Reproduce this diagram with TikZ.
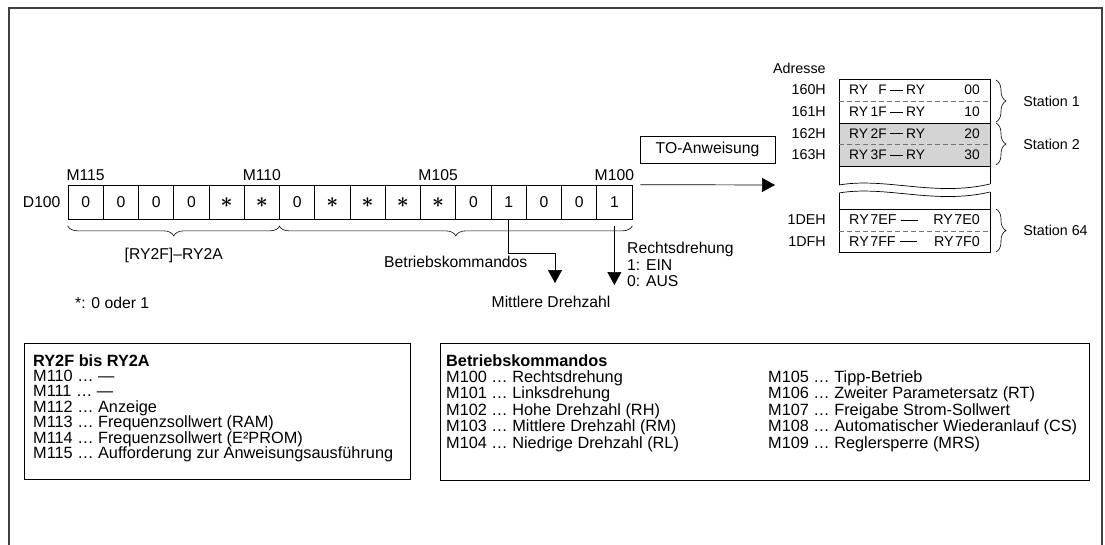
\documentclass[tikz,border=0pt]{standalone}
\usepackage{fontspec}
\setmainfont{Liberation Sans}
\usetikzlibrary{positioning,arrows.meta,decorations.pathreplacing}
\newcommand{\stern}{{\fontsize{21}{21}\selectfont\boldmath$\ast$}}
\tikzset{
  txt/.style={font=\fontsize{15.7}{16.5}\selectfont, inner sep=0pt},
  ttxt/.style={font=\fontsize{14.3}{15}\selectfont, inner sep=0pt},
  rtxt/.style={font=\fontsize{13.8}{14}\selectfont, inner sep=0pt},
  ltxt/.style={font=\fontsize{16.3}{15.4}\selectfont, inner sep=0pt},
  zelle/.style={draw, line width=0.7pt, minimum width=35.25pt, minimum height=34.5pt, inner sep=0pt, txt},
  pfeil/.style={line width=0.7pt, -{Triangle[width=14pt,length=13pt]}},
  klammer/.style={line width=0.6pt, decorate, decoration={brace, amplitude=10pt}},
  klammeru/.style={line width=0.6pt, decorate, decoration={brace, mirror, amplitude=10pt}},
  trenn/.style={black!55, line width=0.7pt, dash pattern=on 5pt off 3pt},
  kasten/.style={draw, line width=0.8pt, inner sep=0pt},
  rahmen/.style={black!75, line width=1.3pt},
}
\begin{document}
\begin{tikzpicture}[x=1pt,y=-1pt]
\useasboundingbox (0,0) rectangle (1105,544);
\draw[rahmen] (9,560) -- (9,8) -- (1102,8) -- (1102,560);

% Register D100
\foreach \w [count=\i from 0] in {0,0,0,0,\stern,\stern,0,\stern,\stern,\stern,\stern,0,1,0,0,1}{
  \pgfmathtruncatemacro{\bit}{115-\i}
  \node[zelle] (m\bit) at ({85.625+35.25*\i},202.25) {\w};
}
\foreach \b in {115,110,105,100}
  \node[txt, above=3.5pt of m\b] (l\b) {M\b};
\node[txt, left=7pt of m115] (d100) {D100};

\draw[klammeru] ([yshift=-6pt]m115.south west) -- ([yshift=-6pt]m110.south east)
  node[txt, midway, below=22pt] (ry2a) {[RY2F]–RY2A};
\draw[klammeru] ([yshift=-6pt]m109.south west) -- ([yshift=-6pt]m100.south east)
  node[txt, midway, below=30pt] (bkom) {Betriebskommandos};
\node[txt, anchor=west] (stern) at (75,303) {*: 0 oder 1};

% Pfeile nach unten
\coordinate (knick) at (555,253);
\coordinate (mspitze) at (555,283);
\coordinate (rspitze) at (614.375,285);
\draw[pfeil] (m103.south) |- (knick) -- (mspitze);
\node[txt] (mdz) at (551,302) {Mittlere Drehzahl};
\draw[pfeil] ([yshift=-6pt]m100.south) -- (rspitze);
\node[txt, anchor=west, align=left] (rdr) at (627,264.5) {Rechtsdrehung\\1: EIN\\0: AUS};

% TO-Anweisung
\node[draw, line width=0.7pt, txt, minimum width=135pt, minimum height=27pt] (toanw) at (707.5,149.5) {TO-Anweisung};
\coordinate (toende) at (775,185);
\draw[pfeil] ([xshift=8pt]m100.north east) -- (toende);

% Speicher
\fill[black!17] (839,123) rectangle (990,166);
\draw[line width=0.7pt] (839,185) -- (839,79) -- (990,79) -- (990,184);
\draw[line width=0.7pt] (839,123) -- (990,123) (839,166) -- (990,166);
\draw[trenn] (839,101) -- (990,101) (839,144) -- (990,144);
\draw[line width=0.7pt] (839,185) .. controls (885,177) and (935,197) .. (990,184);
\draw[line width=0.7pt] (839,193) .. controls (885,185) and (935,205) .. (990,192);
\draw[line width=0.7pt] (839,193) -- (839,252) -- (990,252) -- (990,192);
\draw[line width=0.7pt] (839,209) -- (990,209);
\draw[trenn] (839,231) -- (990,231);

\node[ttxt, anchor=west] (adr) at (773,68) {Adresse};
\foreach \a/\y in {160H/90,161H/112,162H/133.5,163H/155,1DEH/220,1DFH/241.5}
  \node[ttxt, anchor=east] (a\a) at (826,\y) {\a};
\foreach \hi/\lo/\y in {F/00/90, 1F/10/112, 2F/20/133.5, 3F/30/155}{
  \node[rtxt, anchor=west] (rya\lo) at (849,\y) {RY};
  \node[rtxt, anchor=east] (hi\lo) at (887,\y) {\hi};
  \node[rtxt, anchor=west] (ryb\lo) at (906,\y) {RY};
  \node[rtxt, anchor=east] (lo\lo) at (980,\y) {\lo};
  \draw[line width=0.7pt] ([xshift=3pt]hi\lo.east) -- ([xshift=-3pt]ryb\lo.west);
}
\foreach \hi/\lo/\y in {7EF/7E0/220, 7FF/7F0/241.5}{
  \node[ttxt, anchor=west] (ry\hi) at (849,\y) {RY\kern1.5pt\hi};
  \node[ttxt, anchor=east] (ry\lo) at (980,\y) {RY\kern1.5pt\lo};
  \draw[line width=0.7pt] ([xshift=4pt]ry\hi.east) -- ([xshift=21pt]ry\hi.east);
}
\draw[klammer] (996,80) -- (996,122) node[ttxt, midway, right=27pt] (st1) {Station 1};
\draw[klammer] (996,123) -- (996,165) node[ttxt, midway, right=27pt] (st2) {Station 2};
\draw[klammer] (996,209) -- (996,252) node[ttxt, midway, right=27pt] (st64) {Station 64};

% Legenden
\node[kasten, anchor=north west, minimum width=386pt, minimum height=136pt] (legl) at (24,343) {};
\node[ltxt, anchor=north west, align=left] (legltxt) at ([xshift=9pt,yshift=-11pt]legl.north west)
  {\textbf{RY2F bis RY2A}\\M110 … —\\M111 … —\\M112 … Anzeige\\M113 … Frequenzsollwert (RAM)\\
   M114 … Frequenzsollwert (E²PROM)\\M115 … Aufforderung zur Anweisungsausführung};
\node[kasten, anchor=north west, minimum width=649pt, minimum height=137pt] (legr) at (440,343) {};
\node[ltxt, anchor=north west] (legrtxt) at ([xshift=6pt,yshift=-11pt]legr.north west)
  {\begin{tabular}{@{}p{322pt}@{}l@{}}
   \textbf{Betriebskommandos} & \\
   M100 … Rechtsdrehung & M105 … Tipp-Betrieb\\
   M101 … Linksdrehung & M106 … Zweiter Parametersatz (RT)\\
   M102 … Hohe Drehzahl (RH) & M107 … Freigabe Strom-Sollwert\\
   M103 … Mittlere Drehzahl (RM) & M108 … Automatischer Wiederanlauf (CS)\\
   M104 … Niedrige Drehzahl (RL) & M109 … Reglersperre (MRS)
   \end{tabular}};
\end{tikzpicture}
\end{document}
